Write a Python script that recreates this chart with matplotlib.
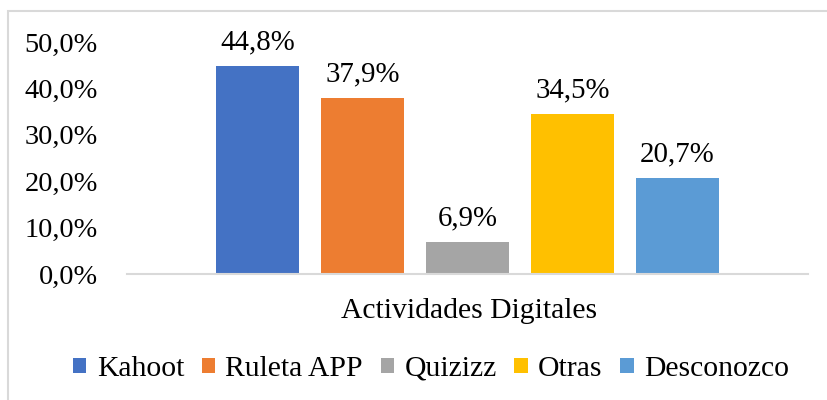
import matplotlib
matplotlib.use("Agg")
import matplotlib.pyplot as plt
from matplotlib.patches import Patch, Rectangle

categories = ["Kahoot", "Ruleta APP", "Quizizz", "Otras", "Desconozco"]
values = [44.8, 37.9, 6.9, 34.5, 20.7]
colors = ["#4472C4", "#ED7D31", "#A5A5A5", "#FFC000", "#5B9BD5"]
yticks = [0, 10, 20, 30, 40, 50]
xlabel = "Actividades Digitales"

plt.rcParams['font.family'] = ['Liberation Serif', 'DejaVu Serif']

fig = plt.figure(figsize=(8.28, 4.0), dpi=100)
ax = fig.add_axes([127/828, 1-274/400, (808-127)/828, (274-42)/400])

x = list(range(len(categories)))
bars = ax.bar(x, values, width=83/105, color=colors)
for xi, v in zip(x, values):
    ax.text(xi, v + 2.3, f"{v:.1f}%".replace(".", ","), ha="center", va="bottom", fontsize=20.8)

ax.set_xlim(-1 - 0.243, 5.243)
ax.set_ylim(0, 50)
ax.set_yticks(yticks)
ax.set_yticklabels([f"{t:.1f}%".replace(".", ",") for t in yticks], fontsize=20.4)
ax.tick_params(axis="y", length=0, pad=21)
ax.set_xticks([])
for s in ["top", "right", "left"]:
    ax.spines[s].set_visible(False)
ax.spines["bottom"].set_color("#D9D9D9")
ax.spines["bottom"].set_linewidth(1.5)

fig.text(469/828, 1-311/400, xlabel, ha="center", va="center", fontsize=21.3)

handles = [Patch(facecolor=c, edgecolor="none") for c in colors]
leg = fig.legend(handles, categories, loc="center", bbox_to_anchor=(431/828, 1-369/400),
                 ncol=5, frameon=False, fontsize=21.3, handlelength=0.45, handleheight=0.45,
                 handletextpad=0.35, columnspacing=0.6, borderpad=0)

fig.patches.append(Rectangle((8/828, -0.1), 1.0, 1.1 - 11/400 + 0.0, transform=fig.transFigure,
                             fill=False, edgecolor="#D9D9D9", linewidth=1.5))

fig.savefig("out.png", dpi=100)
